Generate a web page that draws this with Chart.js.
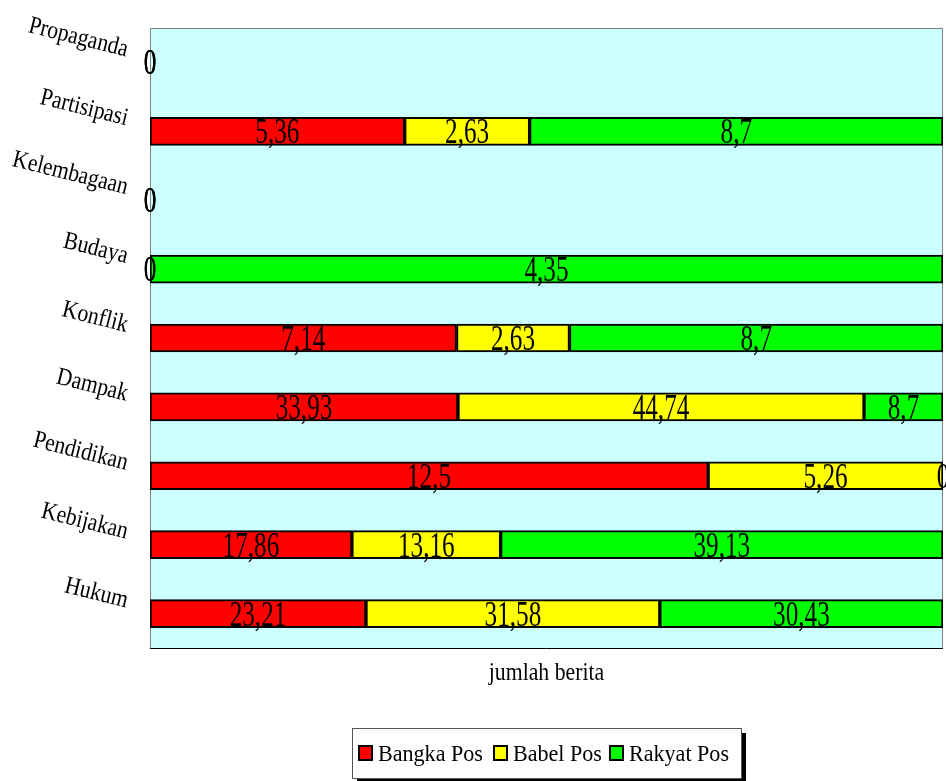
<!DOCTYPE html>
<html lang="id">
<head>
    <meta charset="UTF-8">
    <title>jumlah berita</title>
    <style>
        body {
            margin: 0;
            padding: 0;
            background-color: #fff;
        }

        #barChart {
            display: block;
        }
    </style>
</head>
<body>
    <canvas id="barChart" width="946" height="781"></canvas>

    <script src="https://cdn.jsdelivr.net/npm/chart.js"></script>
    <script>
        // Categories, top to bottom
        const categories = ['Propaganda', 'Partisipasi', 'Kelembagaan', 'Budaya', 'Konflik', 'Dampak', 'Pendidikan', 'Kebijakan', 'Hukum'];

        // Percentages per newspaper
        const bangkaPos = [0, 5.36, 0, 0, 7.14, 33.93, 12.5, 17.86, 23.21];
        const babelPos = [0, 2.63, 0, 0, 2.63, 44.74, 5.26, 13.16, 31.58];
        const rakyatPos = [0, 8.7, 0, 4.35, 8.7, 8.7, 0, 39.13, 30.43];

        const seriesNames = ['Bangka Pos', 'Babel Pos', 'Rakyat Pos'];
        const seriesColors = ['#ff0000', '#ffff00', '#00ff00'];
        const rawSeries = [bangkaPos, babelPos, rakyatPos];

        // Each bar is stacked to 100%, so convert values to shares of the row total
        const totals = categories.map((c, i) => bangkaPos[i] + babelPos[i] + rakyatPos[i]);
        const toShare = arr => arr.map((v, i) => totals[i] ? v / totals[i] * 100 : 0);

        const SERIF = '"Liberation Serif", "DejaVu Serif", serif';

        // Draw horizontally squeezed text, like a condensed Times face
        function squeezed(ctx, text, x, y, sx, align, angle) {
            ctx.save();
            ctx.translate(x, y);
            if (angle) ctx.rotate(angle);
            ctx.scale(sx, 1);
            ctx.textAlign = align;
            ctx.textBaseline = 'alphabetic';
            ctx.fillText(text, 0, 0);
            ctx.restore();
        }

        const decorations = {
            id: 'decorations',
            beforeDraw(chart) {
                const { ctx, chartArea: a } = chart;
                ctx.save();
                ctx.fillStyle = '#fff';
                ctx.fillRect(0, 0, chart.width, chart.height);
                ctx.fillStyle = '#ccffff';
                ctx.fillRect(a.left, a.top, a.right - a.left, a.bottom - a.top);
                ctx.strokeStyle = '#808080';
                ctx.lineWidth = 1;
                ctx.beginPath();
                ctx.moveTo(a.left + 0.5, a.bottom);
                ctx.lineTo(a.left + 0.5, a.top + 0.5);
                ctx.lineTo(a.right - 0.5, a.top + 0.5);
                ctx.lineTo(a.right - 0.5, a.bottom);
                ctx.stroke();
                ctx.strokeStyle = '#000';
                ctx.beginPath();
                ctx.moveTo(a.left, a.bottom + 0.5);
                ctx.lineTo(a.right, a.bottom + 0.5);
                ctx.stroke();
                ctx.restore();
            },
            afterDatasetsDraw(chart) {
                // value labels in the middle of each segment
                const ctx = chart.ctx;
                ctx.save();
                ctx.fillStyle = '#000';
                ctx.font = '36px ' + SERIF;
                chart.data.datasets.forEach((ds, d) => {
                    const meta = chart.getDatasetMeta(d);
                    meta.data.forEach((bar, i) => {
                        const text = String(rawSeries[d][i]).replace('.', ',');
                        const cx = (bar.x + bar.base) / 2;
                        squeezed(ctx, text, cx, bar.y + 12, 0.7, 'center');
                    });
                });
                ctx.restore();
            },
            afterDraw(chart) {
                const { ctx, chartArea: a } = chart;
                const yScale = chart.scales.y;
                ctx.save();
                ctx.fillStyle = '#000';

                // slanted category labels
                ctx.font = '25px ' + SERIF;
                categories.forEach((c, i) => {
                    const y = yScale.getPixelForValue(i);
                    squeezed(ctx, c, a.left - 24, y - 6, 0.86, 'right', 14 * Math.PI / 180);
                });

                // axis title
                ctx.font = '25px ' + SERIF;
                squeezed(ctx, 'jumlah berita', (a.left + a.right) / 2, 680, 0.87, 'center');

                // legend box with drop shadow
                const bx = 352, by = 728, bw = 389, bh = 50;
                ctx.fillStyle = '#000';
                ctx.fillRect(bx + 5, by + 5, bw, bh);
                ctx.fillStyle = '#fff';
                ctx.fillRect(bx, by, bw, bh);
                ctx.strokeStyle = '#555';
                ctx.lineWidth = 1;
                ctx.strokeRect(bx + 0.5, by + 0.5, bw, bh);

                const swatchX = [359, 494, 610];
                ctx.font = '24px ' + SERIF;
                chart.data.datasets.forEach((ds, d) => {
                    const sx = swatchX[d];
                    ctx.fillStyle = ds.backgroundColor;
                    ctx.fillRect(sx, 746, 13, 14);
                    ctx.strokeStyle = '#000';
                    ctx.lineWidth = 2;
                    ctx.strokeRect(sx, 746, 13, 14);
                    ctx.fillStyle = '#000';
                    squeezed(ctx, ds.label, sx + 19, 761, 0.92, 'left');
                });
                ctx.restore();
            }
        };

        const barCtx = document.getElementById('barChart').getContext('2d');
        const barChart = new Chart(barCtx, {
            type: 'bar',
            data: {
                labels: categories,
                datasets: rawSeries.map((arr, d) => ({
                    label: seriesNames[d],
                    data: toShare(arr),
                    backgroundColor: seriesColors[d],
                    borderColor: '#000',
                    borderWidth: 2,
                    borderSkipped: false,
                    barThickness: 28
                }))
            },
            options: {
                indexAxis: 'y',
                responsive: false,
                animation: false,
                layout: {
                    padding: { left: 150, top: 28, right: 3, bottom: 133 }
                },
                scales: {
                    x: { stacked: true, min: 0, max: 100, display: false },
                    y: { stacked: true, display: false }
                },
                plugins: {
                    legend: { display: false },
                    tooltip: { enabled: false }
                }
            },
            plugins: [decorations]
        });
    </script>
</body>
</html>
